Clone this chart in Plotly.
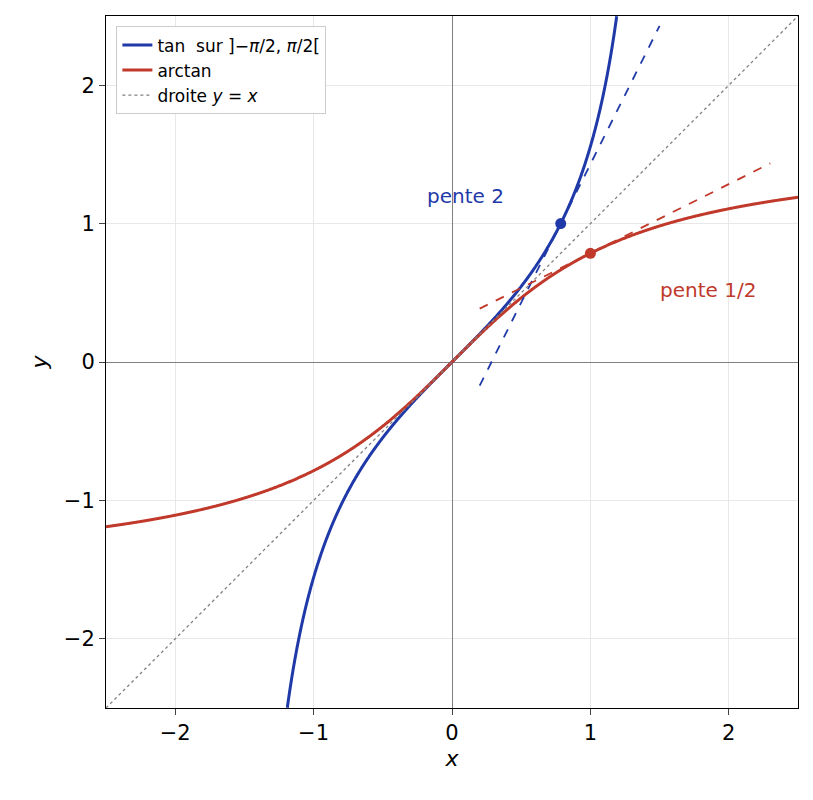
import numpy as np
import plotly.graph_objects as go

# function samples
x_tan = np.linspace(-1.19, 1.19, 1200)
y_tan = np.tan(x_tan)
x_atan = np.linspace(-2.5, 2.5, 1200)
y_atan = np.arctan(x_atan)
diag = [-2.5, 2.5]

# tangent points and slopes
p_tan = (np.pi/4, 1.0); slope_tan = 2.0; tan_range = [0.2, 1.5]
p_atan = (1.0, np.pi/4); slope_atan = 0.5; atan_range = [0.2, 2.3]

blue = "#1f3aa8"; red = "#c0392b"
fig = go.Figure()
fig.add_trace(go.Scatter(x=x_tan, y=y_tan, mode="lines", line=dict(color=blue, width=3, simplify=False),
                         name="tan  sur ]−<i>π</i>/2, <i>π</i>/2["))
fig.add_trace(go.Scatter(x=x_atan, y=y_atan, mode="lines", line=dict(color=red, width=3, simplify=False), name="arctan"))
fig.add_trace(go.Scatter(x=diag, y=diag, mode="lines", line=dict(color="gray", width=1.3, dash="dot"),
                         name="droite <i>y</i> = <i>x</i>"))
tx = np.array(tan_range)
fig.add_trace(go.Scatter(x=tx, y=p_tan[1] + slope_tan*(tx-p_tan[0]), mode="lines",
                         line=dict(color=blue, width=1.8, dash="dash"), showlegend=False))
ax = np.array(atan_range)
fig.add_trace(go.Scatter(x=ax, y=p_atan[1] + slope_atan*(ax-p_atan[0]), mode="lines",
                         line=dict(color=red, width=1.8, dash="dash"), showlegend=False))
fig.add_trace(go.Scatter(x=[p_tan[0]], y=[p_tan[1]], mode="markers", marker=dict(color=blue, size=11), showlegend=False))
fig.add_trace(go.Scatter(x=[p_atan[0]], y=[p_atan[1]], mode="markers", marker=dict(color=red, size=11), showlegend=False))

fig.add_annotation(x=0.1, y=1.2, text="pente 2", showarrow=False, font=dict(color=blue, size=20))
fig.add_annotation(x=1.85, y=0.52, text="pente 1/2", showarrow=False, font=dict(color=red, size=20))

ax_common = dict(range=[-2.5, 2.5], tickvals=[-2, -1, 0, 1, 2], showgrid=True, gridcolor="#e8e8e8",
                 zeroline=True, zerolinecolor="gray", zerolinewidth=1, showline=True, linecolor="black",
                 mirror=True, ticks="outside", ticklen=6, tickfont=dict(size=21, color="black"))
fig.update_xaxes(**ax_common, title=dict(text="<i>x</i>", font=dict(size=22), standoff=6))
fig.update_yaxes(**ax_common, title=dict(text="<i>y</i>", font=dict(size=22), standoff=10))
fig.update_layout(width=813, height=800, margin=dict(l=98, r=23, t=8, b=100),
                  plot_bgcolor="white", paper_bgcolor="white",
                  font=dict(family="DejaVu Sans", color="black"),
                  legend=dict(x=0.015, y=0.985, xanchor="left", yanchor="top", bordercolor="#cccccc",
                              borderwidth=1, bgcolor="white", font=dict(size=17)))
fig.write_html("out.html")
